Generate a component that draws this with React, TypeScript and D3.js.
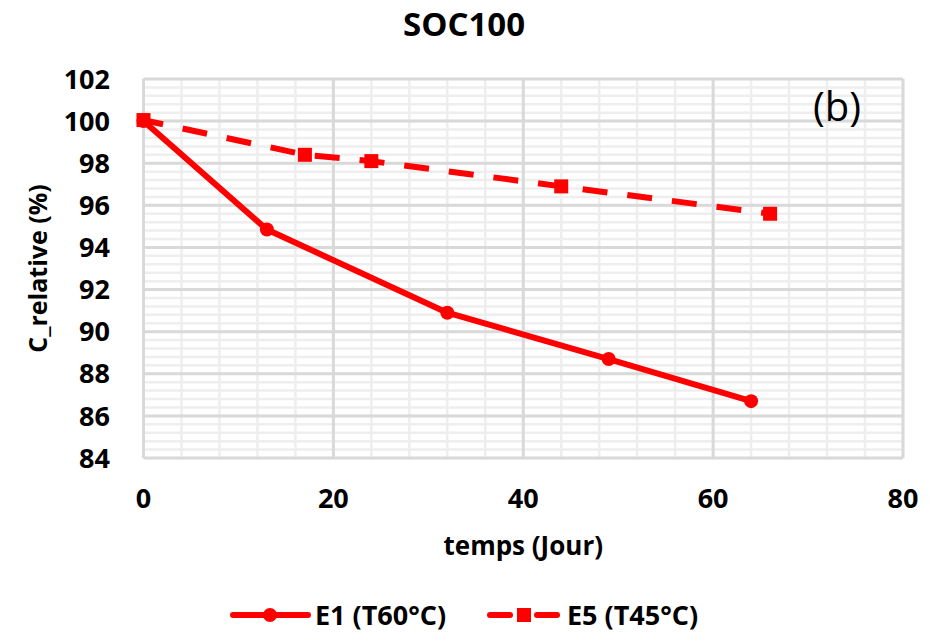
import React from "react";
import * as d3 from "d3";

const e1Days = [0, 13, 32, 49, 64];
const e1Values = [100, 94.85, 90.9, 88.7, 86.7];
const e5Days = [0, 17, 24, 44, 66];
const e5Values = [100.05, 98.4, 98.1, 96.9, 95.6];
const xTicks = [0, 20, 40, 60, 80];
const yTicks = [84, 86, 88, 90, 92, 94, 96, 98, 100, 102];
const seriesNames = ["E1 (T60°C)", "E5 (T45°C)"];
const title = "SOC100";
const xLabel = "temps (Jour)";
const yLabel = "C_relative (%)";
const panelTag = "(b)";

const W = 939;
const H = 632;
const left = 143.5;
const right = 903;
const top = 79;
const bottom = 458;
const RED = "#ff0000";
const FONT = "'Open Sans', 'Noto Sans', sans-serif";

export default function App() {
  const x = d3.scaleLinear().domain([0, 80]).range([left, right]);
  const y = d3.scaleLinear().domain([84, 102]).range([bottom, top]);

  const xMinor = d3.range(0, 80.001, 4);
  const yMinor = d3.range(84, 102.001, 0.4);

  const line = d3
    .line<[number, number]>()
    .x((d) => x(d[0]))
    .y((d) => y(d[1]));

  const e1: [number, number][] = e1Days.map((d, i) => [d, e1Values[i]]);
  const e5: [number, number][] = e5Days.map((d, i) => [d, e5Values[i]]);

  return (
    <svg
      width={W}
      height={H}
      style={{ position: "absolute", left: 0, top: 0, background: "#fff" }}
      fontFamily={FONT}
    >
      {/* minor grid */}
      {xMinor.map((v, i) => (
        <line key={"xm" + i} x1={x(v)} x2={x(v)} y1={top} y2={bottom} stroke="#eeeeee" strokeWidth={2.5} />
      ))}
      {yMinor.map((v, i) => (
        <line key={"ym" + i} x1={left} x2={right} y1={y(v)} y2={y(v)} stroke="#eeeeee" strokeWidth={2.5} />
      ))}
      {/* major grid */}
      {xTicks.map((v, i) => (
        <line key={"xM" + i} x1={x(v)} x2={x(v)} y1={top} y2={bottom} stroke="#d9d9d9" strokeWidth={3} />
      ))}
      {yTicks.map((v, i) => (
        <line key={"yM" + i} x1={left} x2={right} y1={y(v)} y2={y(v)} stroke="#d9d9d9" strokeWidth={3} />
      ))}

      {/* series */}
      <path d={line(e5) || ""} fill="none" stroke={RED} strokeWidth={6} strokeDasharray="25,20" strokeDashoffset={5} />
      {e5.map((d, i) => (
        <rect key={"s" + i} x={x(d[0]) - 7} y={y(d[1]) - 7} width={14} height={14} fill={RED} />
      ))}
      <path d={line(e1) || ""} fill="none" stroke={RED} strokeWidth={6} strokeLinejoin="round" />
      {e1.map((d, i) => (
        <circle key={"c" + i} cx={x(d[0])} cy={y(d[1])} r={7} fill={RED} />
      ))}

      {/* ticks */}
      {yTicks.map((v, i) => (
        <text key={"yt" + i} x={110} y={y(v)} dy="0.36em" textAnchor="end" fontSize={27} fontWeight={700} fill="#000">
          {v}
        </text>
      ))}
      {xTicks.map((v, i) => (
        <text key={"xt" + i} x={x(v)} y={508} textAnchor="middle" fontSize={27} fontWeight={700} fill="#000">
          {v}
        </text>
      ))}

      {/* titles */}
      <text x={464} y={36} textAnchor="middle" fontSize={33} fontWeight={700} fill="#000">
        {title}
      </text>
      <text x={(left + right) / 2} y={555} textAnchor="middle" fontSize={26} fontWeight={700} fill="#000">
        {xLabel}
      </text>
      <text
        transform={`translate(47,${(top + bottom) / 2}) rotate(-90)`}
        textAnchor="middle"
        fontSize={25}
        fontWeight={700}
        fill="#000"
      >
        {yLabel}
      </text>
      <text x={837} y={121} textAnchor="middle" fontSize={40} fill="#000">
        {panelTag}
      </text>

      {/* legend */}
      <line x1={233} x2={308} y1={615} y2={615} stroke={RED} strokeWidth={6} strokeLinecap="round" />
      <circle cx={270} cy={615} r={7} fill={RED} />
      <text x={315} y={625} fontSize={27} fontWeight={700} fill="#000">
        {seriesNames[0]}
      </text>
      <line x1={490} x2={510} y1={615} y2={615} stroke={RED} strokeWidth={6} strokeLinecap="round" />
      <line x1={537} x2={557} y1={615} y2={615} stroke={RED} strokeWidth={6} strokeLinecap="round" />
      <rect x={517} y={608} width={14} height={14} fill={RED} />
      <text x={567} y={625} fontSize={27} fontWeight={700} fill="#000">
        {seriesNames[1]}
      </text>
    </svg>
  );
}
